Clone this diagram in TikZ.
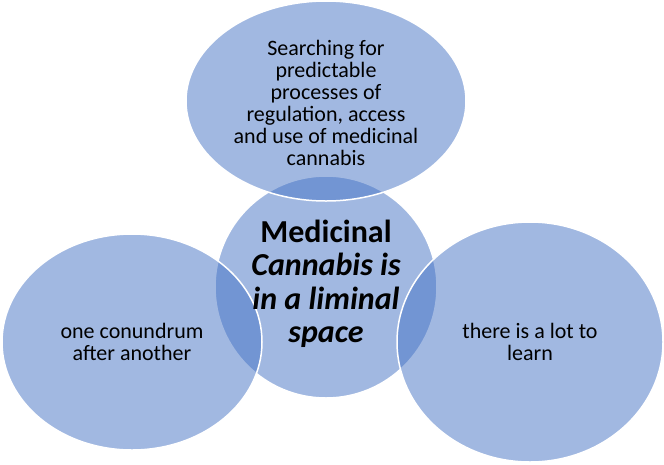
\documentclass[tikz,border=0pt]{standalone}
\usepackage{fontspec}
\setmainfont{Carlito}
\definecolor{officeblue}{HTML}{4472C4}
\begin{document}
\begin{tikzpicture}[x=1pt,y=-1pt,
  bubble/.style={fill=officeblue,fill opacity=0.5,draw=white,draw opacity=1,line width=1.5pt},
  small/.style={align=center,font=\fontsize{22}{22}\selectfont,text=black,text opacity=1},
  big/.style={align=center,font=\fontsize{32}{33.5}\selectfont\bfseries,text=black,text opacity=1}]
\useasboundingbox (0,0) rectangle (664,464);
\path[bubble] (326,287) ellipse [x radius=111,y radius=111];
\path[bubble] (326,101) ellipse [x radius=140,y radius=100];
\path[bubble] (132,342) ellipse [x radius=130,y radius=108];
\path[bubble] (530,342) ellipse [x radius=133,y radius=120];
\node[big] (c) at (326,284) {Medicinal\\\itshape Cannabis is\\\itshape in a liminal\\\itshape space};
\node[small] (t) at (326,103) {Searching for\\predictable\\processes of\\regulation, access\\and use of medicinal\\cannabis};
\node[small] (l) at (132,342) {one conundrum\\after another};
\node[small] (r) at (530,342) {there is a lot to\\learn};
\end{tikzpicture}
\end{document}
